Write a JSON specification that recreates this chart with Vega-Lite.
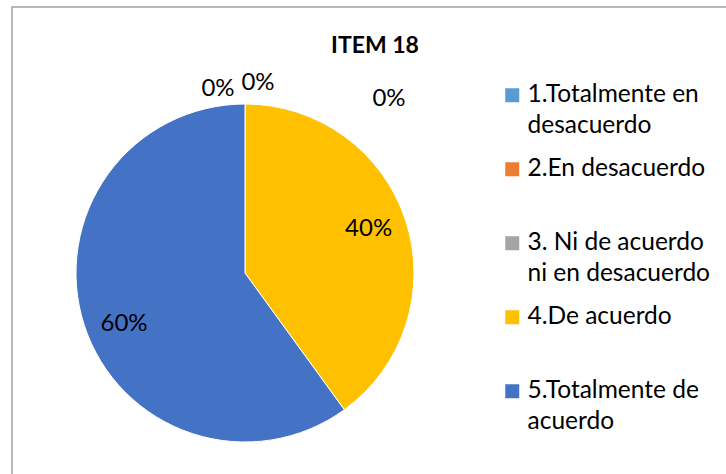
{
  "$schema": "https://vega.github.io/schema/vega-lite/v6.json",
  "width": 714,
  "height": 467,
  "autosize": "none",
  "padding": {"left": 12, "top": 7, "right": 0, "bottom": 0},
  "background": "white",
  "config": {
    "view": {"stroke": null},
    "font": "Lato",
    "style": {"guide-label": {"lineHeight": 31}}
  },
  "title": {
    "text": "ITEM 18",
    "font": "Lato",
    "fontSize": 23,
    "fontWeight": "bold",
    "color": "#000000",
    "anchor": "middle",
    "frame": "group",
    "orient": "top",
    "baseline": "middle",
    "offset": -63,
    "dx": 6
  },
  "data": {
    "values": [
      {"cat": "1.Totalmente en desacuerdo", "v": 0},
      {"cat": "2.En desacuerdo", "v": 0},
      {"cat": "3. Ni de acuerdo ni en desacuerdo", "v": 0},
      {"cat": "4.De acuerdo", "v": 0.4},
      {"cat": "5.Totalmente de acuerdo", "v": 0.6}
    ]
  },
  "layer": [
    {
      "data": {"values": [{"frame": "chart area"}]},
      "mark": {"type": "rect", "fill": null, "stroke": "#a0a0a0", "strokeWidth": 1.5, "strokeDash": [714, 1181, 470, 1]},
      "encoding": {}
    },
    {
      "mark": {"type": "arc", "outerRadius": 169, "x": 233, "y": 266, "stroke": "white", "strokeWidth": 1},
      "encoding": {
        "theta": {"field": "v", "type": "quantitative", "stack": true},
        "color": {
          "field": "cat",
          "type": "nominal",
          "scale": {
            "domain": ["1.Totalmente en desacuerdo", "2.En desacuerdo", "3. Ni de acuerdo ni en desacuerdo", "4.De acuerdo", "5.Totalmente de acuerdo"],
            "range": ["#5B9BD5", "#ED7D31", "#A5A5A5", "#FFC000", "#4472C4"]
          },
          "legend": {
            "title": null,
            "orient": "none",
            "legendX": 488,
            "legendY": 76,
            "padding": 0,
            "symbolType": "square",
            "symbolSize": 196,
            "symbolStrokeWidth": 0,
            "labelFont": "Lato",
            "labelFontSize": 24.5,
            "labelColor": "#000000",
            "labelLimit": 400,
            "labelOffset": 3,
            "rowPadding": 18,
            "labelExpr": "datum.label == '1.Totalmente en desacuerdo' ? ['1.Totalmente en', 'desacuerdo'] : datum.label == '2.En desacuerdo' ? ['2.En desacuerdo', ''] : datum.label == '3. Ni de acuerdo ni en desacuerdo' ? ['3. Ni de acuerdo', 'ni en desacuerdo'] : datum.label == '4.De acuerdo' ? ['4.De acuerdo', ''] : ['5.Totalmente de', 'acuerdo']",
            "encode": {
              "labels": {"update": {"lineHeight": {"value": 31}, "dy": {"value": 15.5}}}
            }
          }
        }
      }
    },
    {
      "transform": [{"filter": "datum.cat == '4.De acuerdo'"}],
      "mark": {"type": "text", "radius": 130, "x": 233, "y": 266, "dy": -4, "font": "Lato", "fontSize": 24, "color": "#000000", "baseline": "middle", "align": "center"},
      "encoding": {
        "theta": {"field": "v", "type": "quantitative", "stack": true},
        "text": {"field": "v", "type": "quantitative", "format": ".0%"}
      }
    },
    {
      "transform": [{"filter": "datum.cat == '5.Totalmente de acuerdo'"}],
      "mark": {"type": "text", "x": 233, "y": 266, "dx": -121, "dy": 51, "font": "Lato", "fontSize": 24, "color": "#000000", "baseline": "middle", "align": "center"},
      "encoding": {"text": {"field": "v", "type": "quantitative", "format": ".0%"}}
    },
    {
      "transform": [{"filter": "datum.cat == '1.Totalmente en desacuerdo'"}],
      "mark": {"type": "text", "x": 233, "y": 266, "dx": -27, "dy": -184, "font": "Lato", "fontSize": 24, "color": "#000000", "baseline": "middle", "align": "center"},
      "encoding": {"text": {"field": "v", "type": "quantitative", "format": ".0%"}}
    },
    {
      "transform": [{"filter": "datum.cat == '2.En desacuerdo'"}],
      "mark": {"type": "text", "x": 233, "y": 266, "dx": 13, "dy": -190, "font": "Lato", "fontSize": 24, "color": "#000000", "baseline": "middle", "align": "center"},
      "encoding": {"text": {"field": "v", "type": "quantitative", "format": ".0%"}}
    },
    {
      "transform": [{"filter": "datum.cat == '3. Ni de acuerdo ni en desacuerdo'"}],
      "mark": {"type": "text", "x": 233, "y": 266, "dx": 144, "dy": -174, "font": "Lato", "fontSize": 24, "color": "#000000", "baseline": "middle", "align": "center"},
      "encoding": {"text": {"field": "v", "type": "quantitative", "format": ".0%"}}
    }
  ]
}
